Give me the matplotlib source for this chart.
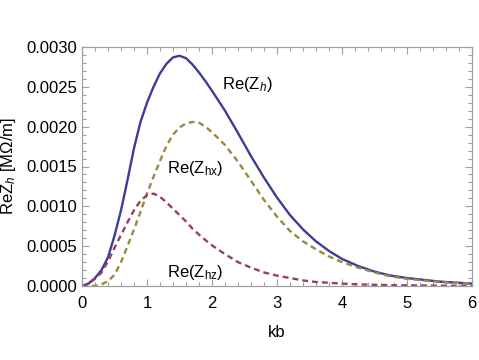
import matplotlib
matplotlib.use("Agg")
import matplotlib.pyplot as plt
from matplotlib.ticker import MultipleLocator, FormatStrFormatter

plt.rcParams['font.family'] = ['Liberation Sans', 'DejaVu Sans']
plt.rcParams['mathtext.fontset'] = 'custom'
plt.rcParams['mathtext.rm'] = 'Liberation Sans'
plt.rcParams['mathtext.it'] = 'Liberation Sans:italic'

# values (units of 1e-3 MOhm/m)
kb = [0, 0.1, 0.2, 0.3, 0.4, 0.5, 0.6, 0.7, 0.8, 0.9, 1.0, 1.1, 1.2, 1.3, 1.4,
      1.5, 1.6, 1.7, 1.8, 1.9, 2.0, 2.2, 2.4, 2.6, 2.8, 3.0, 3.2, 3.4, 3.6, 3.8,
      4.0, 4.25, 4.5, 4.75, 5.0, 5.5, 6.0]
re_zh = [0, 0.03, 0.10, 0.20, 0.36, 0.63, 0.95, 1.33, 1.73, 2.06, 2.30, 2.50,
         2.67, 2.79, 2.87, 2.89, 2.86, 2.78, 2.68, 2.57, 2.45, 2.20, 1.92, 1.63,
         1.36, 1.11, 0.89, 0.71, 0.56, 0.44, 0.34, 0.25, 0.18, 0.13, 0.10,
         0.055, 0.03]
re_zhx = [0, 0, 0, 0.02, 0.06, 0.14, 0.30, 0.50, 0.71, 0.93, 1.16, 1.37, 1.57,
          1.76, 1.90, 1.99, 2.04, 2.06, 2.05, 2.00, 1.93, 1.77, 1.56, 1.32,
          1.08, 0.87, 0.69, 0.56, 0.46, 0.37, 0.30, 0.23, 0.17, 0.12, 0.09,
          0.05, 0.03]
re_zhz = [0, 0.03, 0.09, 0.17, 0.31, 0.48, 0.64, 0.80, 0.95, 1.07, 1.14, 1.16,
          1.12, 1.05, 0.97, 0.89, 0.81, 0.72, 0.645, 0.575, 0.51, 0.40, 0.30,
          0.23, 0.17, 0.13, 0.10, 0.07, 0.05, 0.04, 0.03, 0.02, 0.015, 0.01,
          0.008, 0.004, 0.002]

blue = '#3d3d99'
gold = '#998a3d'
magenta = '#993d6b'
grey = '#a0a0a0'

fig = plt.figure(figsize=(4.79, 3.6), dpi=100)
ax = fig.add_axes([0.1712, 0.2056, 0.8142, 0.6638])

scale = 1e-3
ax.plot(kb, [v * scale for v in re_zh], color=blue, lw=1.7,
        solid_joinstyle='round')
ax.plot(kb, [v * scale for v in re_zhx], color=gold, lw=1.7, dashes=(2.5, 1.7))
ax.plot(kb, [v * scale for v in re_zhz], color=magenta, lw=1.7, dashes=(2.5, 1.7))

ax.set_xlim(0, 6)
ax.set_ylim(0, 0.003)
ax.xaxis.set_major_locator(MultipleLocator(1))
ax.xaxis.set_minor_locator(MultipleLocator(0.2))
ax.yaxis.set_major_locator(MultipleLocator(0.0005))
ax.yaxis.set_minor_locator(MultipleLocator(0.0001))
ax.yaxis.set_major_formatter(FormatStrFormatter('%.4f'))

for s in ax.spines.values():
    s.set_color(grey)
    s.set_linewidth(0.9)
ax.tick_params(which='both', direction='in', top=True, right=True,
               color=grey, labelsize=12, labelcolor='black', width=0.8)
ax.tick_params(which='major', length=5)
ax.tick_params(which='minor', length=2.8)
ax.tick_params(axis='x', pad=7)

ax.set_xlabel('kb', fontsize=12, labelpad=10)
ax.set_ylabel(r'Re$\mathrm{Z}_h$ [MΩ/m]', fontsize=12, labelpad=6)

ax.text(2.15, 0.00253, r'Re($\mathrm{Z}_h$)', fontsize=12, va='center')
ax.text(1.3, 0.00148, r'Re($\mathrm{Z}_\mathrm{hx}$)', fontsize=12, va='center')
ax.text(1.3, 0.00017, r'Re($\mathrm{Z}_\mathrm{hz}$)', fontsize=12, va='center')

fig.savefig('out.png', dpi=100)
